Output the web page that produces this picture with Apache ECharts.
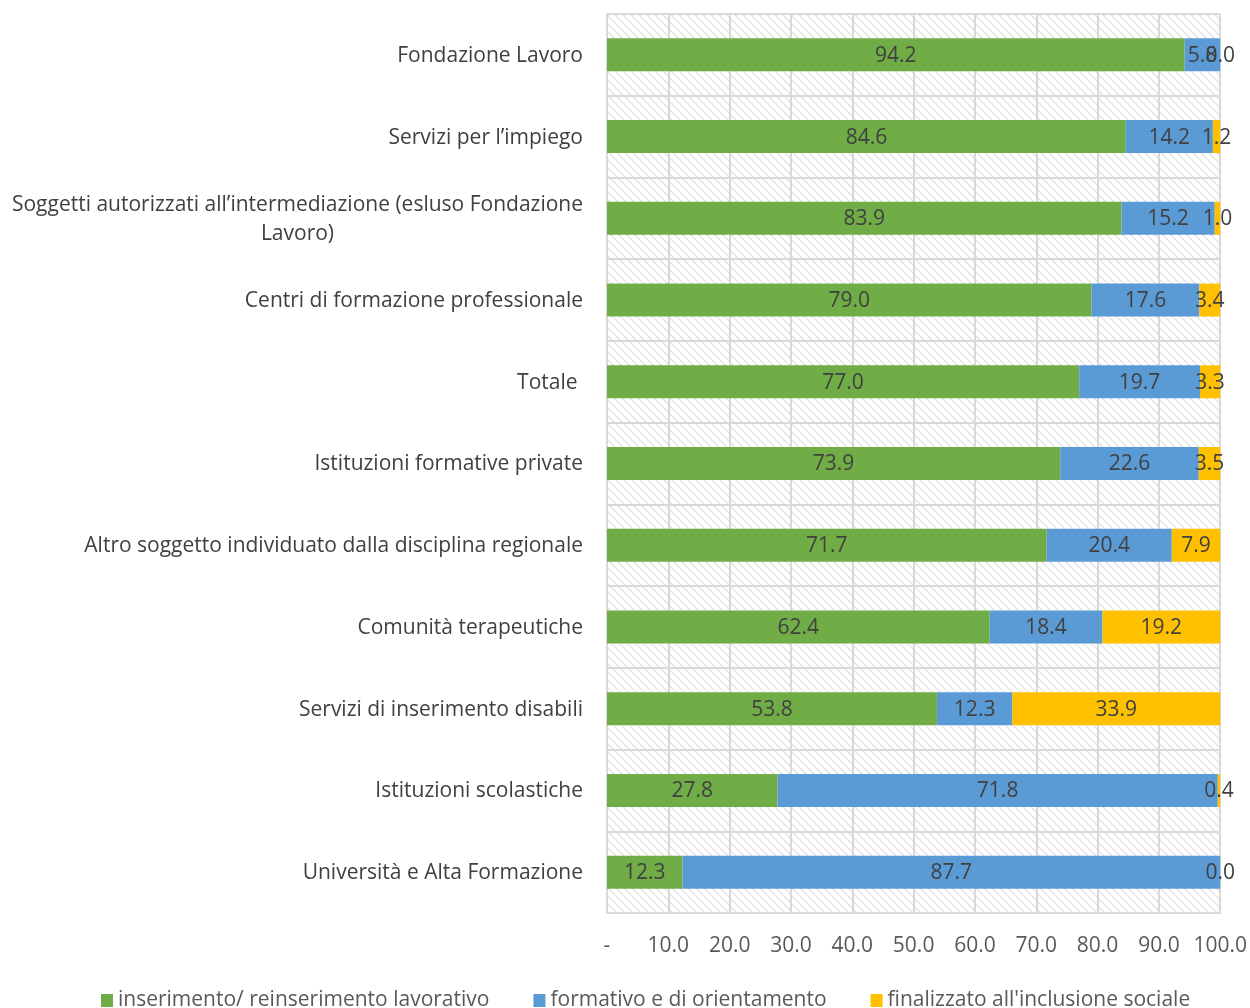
<!DOCTYPE html>
<html>
<head>
<meta charset="utf-8">
<script src="https://cdn.jsdelivr.net/npm/echarts@6/dist/echarts.min.js"></script>
<style>
  html, body { margin: 0; padding: 0; background: #fff; }
  #chart { width: 1250px; height: 1008px; }
</style>
</head>
<body>
<div id="chart"></div>
<script>
// Categories, top to bottom
const categories = [
  'Fondazione Lavoro',
  'Servizi per l\u2019impiego',
  'Soggetti autorizzati all\u2019intermediazione (esluso Fondazione\nLavoro)',
  'Centri di formazione professionale',
  'Totale ',
  'Istituzioni formative private',
  'Altro soggetto individuato dalla disciplina regionale',
  'Comunit\u00e0 terapeutiche',
  'Servizi di inserimento disabili',
  'Istituzioni scolastiche',
  'Universit\u00e0 e Alta Formazione'
];

const seriesNames = [
  'inserimento/ reinserimento lavorativo',
  'formativo e di orientamento',
  'finalizzato all\'inclusione sociale'
];

const inserimento = [94.2, 84.6, 83.9, 79.0, 77.0, 73.9, 71.7, 62.4, 53.8, 27.8, 12.3];
const formativo   = [5.8, 14.2, 15.2, 17.6, 19.7, 22.6, 20.4, 18.4, 12.3, 71.8, 87.7];
const inclusione  = [0.0, 1.2, 1.0, 3.4, 3.3, 3.5, 7.9, 19.2, 33.9, 0.4, 0.0];

const colors = ['#70AD47', '#5B9BD5', '#FFC000'];

// Diagonal hatch tile for the plot background
function hatchTile() {
  const c = document.createElement('canvas');
  c.width = 8; c.height = 8;
  const g = c.getContext('2d');
  g.fillStyle = '#ffffff';
  g.fillRect(0, 0, 8, 8);
  g.strokeStyle = '#e2e2e2';
  g.lineWidth = 1.3;
  g.beginPath();
  g.moveTo(-1, -1); g.lineTo(9, 9);
  g.moveTo(-5, 3); g.lineTo(5, 13);
  g.moveTo(3, -5); g.lineTo(13, 5);
  g.stroke();
  return c;
}

const FONT = 'Open Sans';
const FS = 21;
const chart = echarts.init(document.getElementById('chart'));

const labelStyle = {
  show: true,
  position: 'inside',
  offset: [0, 1],
  color: '#404040',
  fontSize: FS,
  fontFamily: FONT,
  formatter: p => p.value.toFixed(1)
};

const values = [inserimento, formativo, inclusione];

chart.setOption({
  animation: false,
  grid: {
    left: 607, right: 29, top: 14, bottom: 95,
    show: true,
    borderWidth: 0,
    backgroundColor: { image: hatchTile(), repeat: 'repeat' }
  },
  legend: {
    top: 985,
    left: 96,
    icon: 'rect',
    itemWidth: 12,
    itemHeight: 13,
    itemGap: 44,
    textStyle: { fontSize: FS, color: '#595959', fontFamily: FONT, padding: [0, 0, 0, 0] },
    data: seriesNames
  },
  xAxis: {
    type: 'value',
    min: 0, max: 100, interval: 10,
    axisLine: { show: true, lineStyle: { color: '#d9d9d9', width: 2 } },
    axisTick: { show: false },
    splitLine: { show: true, lineStyle: { color: '#d9d9d9', width: 2 } },
    axisLabel: {
      margin: 23,
      fontSize: FS,
      color: '#595959',
      fontFamily: FONT,
      formatter: v => v === 0 ? '-' : v.toFixed(1)
    }
  },
  yAxis: {
    type: 'category',
    inverse: true,
    data: categories,
    axisLine: { show: true, lineStyle: { color: '#d9d9d9', width: 2 } },
    axisTick: { show: false },
    splitLine: { show: true, lineStyle: { color: '#d9d9d9', width: 2 } },
    axisLabel: {
      margin: 24,
      fontSize: FS,
      color: '#404040',
      fontFamily: FONT,
      lineHeight: 29,
      formatter: v => v.split('\n').map(s => '{c|' + s + '}').join('\n'),
      rich: { c: { align: 'center', fontSize: FS, color: '#404040', fontFamily: FONT, lineHeight: 29, padding: [2, 0, 0, 0] } }
    }
  },
  series: seriesNames.map((name, i) => ({
    name: name,
    type: 'bar',
    stack: 'total',
    barWidth: 33,
    itemStyle: { color: colors[i] },
    label: labelStyle,
    data: values[i]
  }))
});
</script>
</body>
</html>
